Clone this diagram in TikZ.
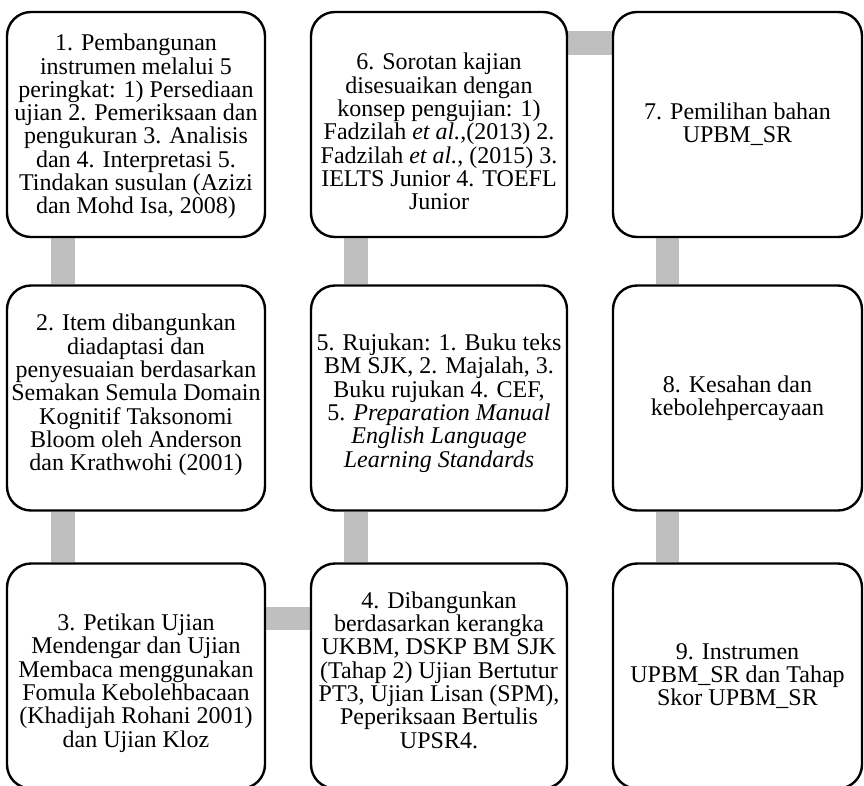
\documentclass[tikz,border=0pt]{standalone}
\usepackage{fontspec}
\setmainfont{Liberation Serif}
\usetikzlibrary{backgrounds}
\begin{document}
\begin{tikzpicture}[x=1pt,y=-1pt,
  stepbox/.style={draw=black, line width=2.4pt, rounded corners=24pt, fill=white,
    inner sep=0pt, minimum height=225pt},
  txt/.style={align=center, inner sep=0pt, font=\fontsize{24}{23.3}\selectfont},
  conn/.style={draw={rgb,255:red,191;green,191;blue,191}, line width=23.5pt, line cap=butt}]
\useasboundingbox (0,0) rectangle (864,785);
% boxes
\node[stepbox, minimum width=258pt] (b1) at (136,124.5) {};
\node[stepbox, minimum width=256pt] (b6) at (439,124.5) {};
\node[stepbox, minimum width=249pt] (b7) at (737.5,124.5) {};
\node[stepbox, minimum width=258pt] (b2) at (136,398) {};
\node[stepbox, minimum width=256pt] (b5) at (439,398) {};
\node[stepbox, minimum width=249pt] (b8) at (737.5,398) {};
\node[stepbox, minimum width=258pt] (b3) at (136,676) {};
\node[stepbox, minimum width=256pt] (b4) at (439,676) {};
\node[stepbox, minimum width=249pt] (b9) at (737.5,676) {};
% texts
\node[txt, yshift=-2pt] (t1) at (b1.center) {1. Pembangunan\\instrumen melalui 5\\peringkat: 1) Persediaan\\ujian 2. Pemeriksaan dan\\pengukuran 3. Analisis\\dan 4. Interpretasi 5.\\Tindakan susulan (Azizi\\dan Mohd Isa, 2008)};
\node[txt, yshift=-7pt] (t6) at (b6.center) {6. Sorotan kajian\\disesuaikan dengan\\konsep pengujian: 1)\\Fadzilah \textit{et al.},(2013) 2.\\Fadzilah \textit{et al.}, (2015) 3.\\IELTS Junior 4. TOEFL\\Junior};
\node[txt] (t7) at (b7.center) {7. Pemilihan bahan\\UPBM\_SR};
\node[txt, yshift=3pt] (t2) at (b2.center) {2. Item dibangunkan\\diadaptasi dan\\penyesuaian berdasarkan\\Semakan Semula Domain\\Kognitif Taksonomi\\Bloom oleh Anderson\\dan Krathwohi (2001)};
\node[txt, yshift=-5pt] (t5) at (b5.center) {5. Rujukan: 1. Buku teks\\BM SJK, 2. Majalah, 3.\\Buku rujukan 4. CEF,\\5. \textit{Preparation Manual}\\\textit{English Language}\\\textit{Learning Standards}};
\node[txt] (t8) at (b8.center) {8. Kesahan dan\\kebolehpercayaan};
\node[txt, yshift=-7pt] (t3) at (b3.center) {3. Petikan Ujian\\Mendengar dan Ujian\\Membaca menggunakan\\Fomula Kebolehbacaan\\(Khadijah Rohani 2001)\\dan Ujian Kloz};
\node[txt, yshift=6pt] (t4) at (b4.center) {4. Dibangunkan\\berdasarkan kerangka\\UKBM, DSKP BM SJK\\(Tahap 2) Ujian Bertutur\\PT3, Ujian Lisan (SPM),\\Peperiksaan Bertulis\\UPSR4.};
\node[txt] (t9) at (b9.center) {9. Instrumen\\UPBM\_SR dan Tahap\\Skor UPBM\_SR};
\begin{scope}[on background layer]
\draw[conn] ([xshift=57pt]b1.south west) -- ([xshift=57pt]b2.north west);
\draw[conn] ([xshift=57pt]b2.south west) -- ([xshift=57pt]b3.north west);
\draw[conn] ([yshift=-56pt]b3.north east) -- ([yshift=-56pt]b4.north west);
\draw[conn] ([xshift=46pt]b4.north west) -- ([xshift=46pt]b5.south west);
\draw[conn] ([xshift=46pt]b5.north west) -- ([xshift=46pt]b6.south west);
\draw[conn] ([yshift=-32pt]b6.north east) -- ([yshift=-32pt]b7.north west);
\draw[conn] ([xshift=55.5pt]b7.south west) -- ([xshift=55.5pt]b8.north west);
\draw[conn] ([xshift=55.5pt]b8.south west) -- ([xshift=55.5pt]b9.north west);
\end{scope}
\end{tikzpicture}
\end{document}
